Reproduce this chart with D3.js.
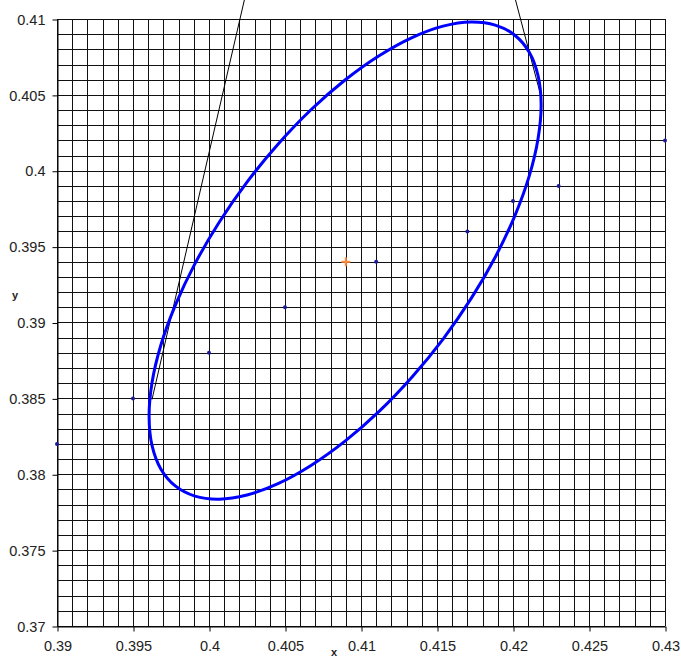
<!DOCTYPE html>
<html>
<head>
<meta charset="utf-8">
<script src="https://cdn.jsdelivr.net/npm/d3@7"></script>
<style>
  html, body { margin: 0; padding: 0; background: #fff; }
  svg { display: block; }
  text { font-family: "Liberation Sans", Arial, sans-serif; }
</style>
</head>
<body>
<script>
// ---- data ----
const xTickValues = [0.39, 0.395, 0.4, 0.405, 0.41, 0.415, 0.42, 0.425, 0.43];
const xTickLabels = ["0.39", "0.395", "0.4", "0.405", "0.41", "0.415", "0.42", "0.425", "0.43"];
const yTickValues = [0.37, 0.375, 0.38, 0.385, 0.39, 0.395, 0.4, 0.405, 0.41];
const yTickLabels = ["0.37", "0.375", "0.38", "0.385", "0.39", "0.395", "0.4", "0.405", "0.41"];

const pointX = [0.39, 0.395, 0.4, 0.405, 0.411, 0.417, 0.42, 0.423, 0.43];
const pointY = [0.382, 0.385, 0.388, 0.391, 0.394, 0.396, 0.398, 0.399, 0.402];

const centerX = [0.409];
const centerY = [0.394];

// ellipse outline
const ellipseX = [0.42185, 0.42165, 0.42107, 0.42012, 0.41883, 0.41724, 0.41540, 0.41336, 0.41119,
  0.40895, 0.40671, 0.40454, 0.40250, 0.40066, 0.39907, 0.39778, 0.39683, 0.39625,
  0.39606, 0.39625, 0.39683, 0.39778, 0.39907, 0.40066, 0.40250, 0.40454, 0.40671,
  0.40895, 0.41119, 0.41336, 0.41540, 0.41724, 0.41883, 0.42012, 0.42107, 0.42165];
const ellipseY = [0.40435, 0.40213, 0.39966, 0.39703, 0.39430, 0.39157, 0.38891, 0.38641, 0.38414,
  0.38218, 0.38058, 0.37938, 0.37863, 0.37836, 0.37856, 0.37923, 0.38035, 0.38190,
  0.38381, 0.38603, 0.38850, 0.39113, 0.39386, 0.39659, 0.39925, 0.40175, 0.40402,
  0.40598, 0.40758, 0.40878, 0.40953, 0.40980, 0.40960, 0.40893, 0.40781, 0.40626];

const tangentAX = [0.39625, 0.40296];
const tangentAY = [0.38493, 0.414];
const tangentBX = [0.42178, 0.41944];
const tangentBY = [0.40513, 0.414];

// ---- drawing ----
const W = 681, H = 657;
const svg = d3.select("body").append("svg").attr("width", W).attr("height", H);

const x = d3.scaleLinear().domain([0.39, 0.43]).range([57, 665]);
const y = d3.scaleLinear().domain([0.37, 0.41]).range([626, 19]);

const gridX = d3.range(0, 41).map(i => 0.39 + i * 0.001);
const gridY = d3.range(0, 41).map(i => 0.37 + i * 0.001);

const grid = svg.append("g").attr("shape-rendering", "crispEdges");
grid.selectAll("line.v").data(gridX).enter().append("line")
  .attr("x1", d => Math.round(x(d)) + 0.5).attr("x2", d => Math.round(x(d)) + 0.5)
  .attr("y1", y(0.41)).attr("y2", y(0.37))
  .attr("stroke", "#111").attr("stroke-width", 1);
grid.selectAll("line.h").data(gridY).enter().append("line")
  .attr("y1", d => Math.round(y(d)) + 0.5).attr("y2", d => Math.round(y(d)) + 0.5)
  .attr("x1", x(0.39)).attr("x2", x(0.43))
  .attr("stroke", "#111").attr("stroke-width", 1);

// axes
const xAxis = d3.axisBottom(x).tickValues(xTickValues)
  .tickFormat((d, i) => xTickLabels[i]).tickSizeInner(5).tickSizeOuter(0).tickPadding(9);
const yAxis = d3.axisLeft(y).tickValues(yTickValues)
  .tickFormat((d, i) => yTickLabels[i]).tickSizeInner(5).tickSizeOuter(0).tickPadding(7);

const gx = svg.append("g").attr("transform", `translate(0.5,${Math.round(y(0.37)) + 0.5})`).call(xAxis);
const gy = svg.append("g").attr("transform", `translate(${Math.round(x(0.39)) + 0.5},0.5)`).call(yAxis);
[gx, gy].forEach(g => {
  g.select(".domain").attr("stroke", "#000");
  g.selectAll(".tick line").attr("stroke", "#000");
  g.selectAll("text").attr("font-size", "14.5px").attr("fill", "#222")
    .attr("font-family", "'Liberation Sans', Arial, sans-serif");
});
gx.selectAll("text").attr("dy", "0.71em");

// axis titles
svg.append("text").attr("x", 15).attr("y", 299).attr("text-anchor", "middle")
  .attr("font-size", "11px").attr("font-weight", "bold").attr("fill", "#222").text("y");
svg.append("text").attr("x", 334).attr("y", 656).attr("text-anchor", "middle")
  .attr("font-size", "11px").attr("font-weight", "bold").attr("fill", "#222").text("x");

// tangent lines
[[tangentAX, tangentAY], [tangentBX, tangentBY]].forEach(([lx, ly]) => {
  svg.append("path")
    .datum(lx.map((v, i) => [v, ly[i]]))
    .attr("d", d3.line().x(d => x(d[0])).y(d => y(d[1])))
    .attr("fill", "none").attr("stroke", "#000").attr("stroke-width", 1);
});

// ellipse
svg.append("path")
  .datum(ellipseX.map((v, i) => [v, ellipseY[i]]))
  .attr("d", d3.line().x(d => x(d[0])).y(d => y(d[1])).curve(d3.curveCatmullRomClosed.alpha(0.5)))
  .attr("fill", "none").attr("stroke", "#0000FF").attr("stroke-width", 3);

// points
svg.append("g").selectAll("circle").data(pointX.map((v, i) => [v, pointY[i]])).enter().append("circle")
  .attr("cx", d => x(d[0])).attr("cy", d => y(d[1])).attr("r", 2)
  .attr("fill", "#1a1a99");

// center cross
const cross = svg.append("g");
centerX.forEach((cxv, i) => {
  const cx = x(cxv), cy = y(centerY[i]);
  cross.append("line").attr("x1", cx - 4.5).attr("x2", cx + 4.5).attr("y1", cy).attr("y2", cy)
    .attr("stroke", "#FF8C40").attr("stroke-width", 2);
  cross.append("line").attr("x1", cx).attr("x2", cx).attr("y1", cy - 4.5).attr("y2", cy + 4.5)
    .attr("stroke", "#FF8C40").attr("stroke-width", 2);
});
</script>
</body>
</html>
